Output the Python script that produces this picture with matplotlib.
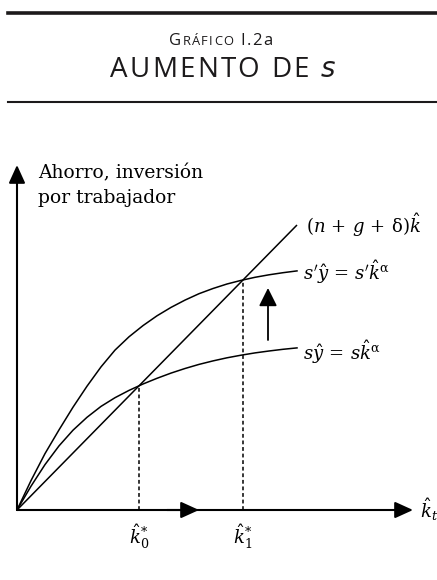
import matplotlib
matplotlib.use("Agg")
import matplotlib.pyplot as plt
from matplotlib.lines import Line2D

# ahorro con tasa s: puntos leídos a lo largo de la curva s*k^alpha
k_s = [0, 14, 28, 42, 56, 70, 84, 98, 112, 126, 140,
       154, 168, 182, 196, 210, 224, 238, 252, 266, 280]
y_s = [0, 23.8, 45.4, 64.1, 79.8, 92.7, 103.6, 112.3, 119.6, 126.0, 131.7,
       136.9, 141.5, 145.6, 149.1, 152.2, 154.8, 157.1, 159.0, 160.7, 162.1]

# ahorro con tasa s' > s
k_s2 = k_s
y_s2 = [0, 29.4, 56.4, 80.1, 102.8, 123.8, 143.1, 159.9, 173.2, 184.4, 194.2,
        202.6, 209.9, 216.3, 221.5, 226.0, 229.6, 232.7, 235.2, 237.3, 239.1]

# inversión de reposición (n + g + delta) k
k_line = [0, 280]
y_line = [0, 285]

# estados estacionarios k0*, k1*
k_star = [122, 226]
y_star = [124.2, 230.1]
star_labels = [r"$\hat{k}^{*}_{0}$", r"$\hat{k}^{*}_{1}$"]

INK = "#1c1a1b"
W, H = 437, 580

plt.rcParams["mathtext.fontset"] = "dejavuserif"
plt.rcParams["font.family"] = "DejaVu Serif"

fig = plt.figure(figsize=(W / 100, H / 100), dpi=100)
# ejes en unidades de pixel con el origen del diagrama en (17, 510)
ax = fig.add_axes([0, 0, 1, 1])
ax.set_xlim(-17, W - 17)
ax.set_ylim(510 - H, 510)
ax.axis("off")

# --- cabecera ---
fig.add_artist(Line2D([8 / W, 1], [1 - 13 / H] * 2, color=INK, lw=2.6))
fig.add_artist(Line2D([8 / W, 1], [1 - 101.5 / H] * 2, color=INK, lw=1.5))

fig.canvas.draw()
renderer = fig.canvas.get_renderer()


def measure(s, size, fam, style):
    t = fig.text(0, 0, s, fontsize=size, family=fam, style=style)
    w = t.get_window_extent(renderer).width
    t.remove()
    return w


def tracked(pieces, left, baseline, width):
    """Escribe letra a letra con espaciado extra hasta ocupar `width` px."""
    glyphs = []   # (letra, tamaño, familia, estilo, x natural)
    cursor = 0.0
    nchars = 0
    for txt, size, fam, style in pieces:
        if txt == " ":
            cursor += measure("x x", size, fam, style) - measure("xx", size, fam, style)
            glyphs.append((None, 0, 0, 0, 0))
            nchars += 1
            continue
        for i, ch in enumerate(txt):
            x0 = measure(txt[:i + 1], size, fam, style) - measure(ch, size, fam, style)
            glyphs.append((ch, size, fam, style, cursor + x0))
            nchars += 1
        cursor += measure(txt, size, fam, style)
    track = max(0.0, (width - cursor) / (nchars - 1))
    for i, (ch, size, fam, style, x) in enumerate(glyphs):
        if ch is None:
            continue
        fig.text((left + x + i * track) / W, 1 - baseline / H, ch, fontsize=size,
                 family=fam, style=style, color=INK, va="baseline", ha="left")


tracked([("G", 12, "Open Sans", "normal"),
         ("RÁFICO", 9.3, "Open Sans", "normal"),
         (" ", 12, "Open Sans", "normal"),
         ("I.2a", 12, "Open Sans", "normal")], 169, 45, 103)
tracked([("AUMENTO", 20, "Open Sans", "normal"),
         (" ", 20, "Open Sans", "normal"),
         ("DE", 20, "Open Sans", "normal"),
         (" ", 20, "Open Sans", "normal"),
         ("s", 20, "DejaVu Sans", "oblique")], 110, 77, 225)

# --- ejes del diagrama ---
head = dict(arrowstyle="-|>,head_length=1.1,head_width=0.5",
            mutation_scale=10, lw=1.5, color="k", shrinkA=0, shrinkB=0)
ax.annotate("", xy=(396, 0), xytext=(0, 0), arrowprops=head)
ax.annotate("", xy=(0, 345), xytext=(0, 0), arrowprops=head)
# flecha intermedia sobre el eje horizontal
ax.annotate("", xy=(182, 0), xytext=(150, 0), arrowprops=head)
# desplazamiento de la curva de ahorro
ax.annotate("", xy=(251, 222), xytext=(251, 170),
            arrowprops=dict(head, lw=1.3,
                            arrowstyle="-|>,head_length=1.1,head_width=0.55"))

ax.plot(k_line, y_line, color="k", lw=1.1, solid_capstyle="butt")
ax.plot(k_s, y_s, color="k", lw=1.1)
ax.plot(k_s2, y_s2, color="k", lw=1.1)

for k, y, lab in zip(k_star, y_star, star_labels):
    ax.plot([k, k], [0, y], color="k", lw=1.1, ls=(0, (2.5, 1.8)))
    ax.text(k, -27, lab, fontsize=13, ha="center", va="center")

ax.text(21, 332, "Ahorro, inversión", fontsize=13.5, ha="left", va="baseline")
ax.text(21, 307, "por trabajador", fontsize=13.5, ha="left", va="baseline")
ax.text(289, 285, r"$(n\,+\,g\,+\,\mathrm{\delta})\hat{k}$", fontsize=13,
        ha="left", va="center")
ax.text(286, 238, r"$s'\hat{y}\,=\,s'\hat{k}^{\mathrm{\alpha}}$", fontsize=13,
        ha="left", va="center")
ax.text(286, 158, r"$s\hat{y}\,=\,s\hat{k}^{\mathrm{\alpha}}$", fontsize=13,
        ha="left", va="center")
ax.text(403, 0, r"$\hat{k}_{t}$", fontsize=13, ha="left", va="center")

fig.savefig("out.png", dpi=100)
